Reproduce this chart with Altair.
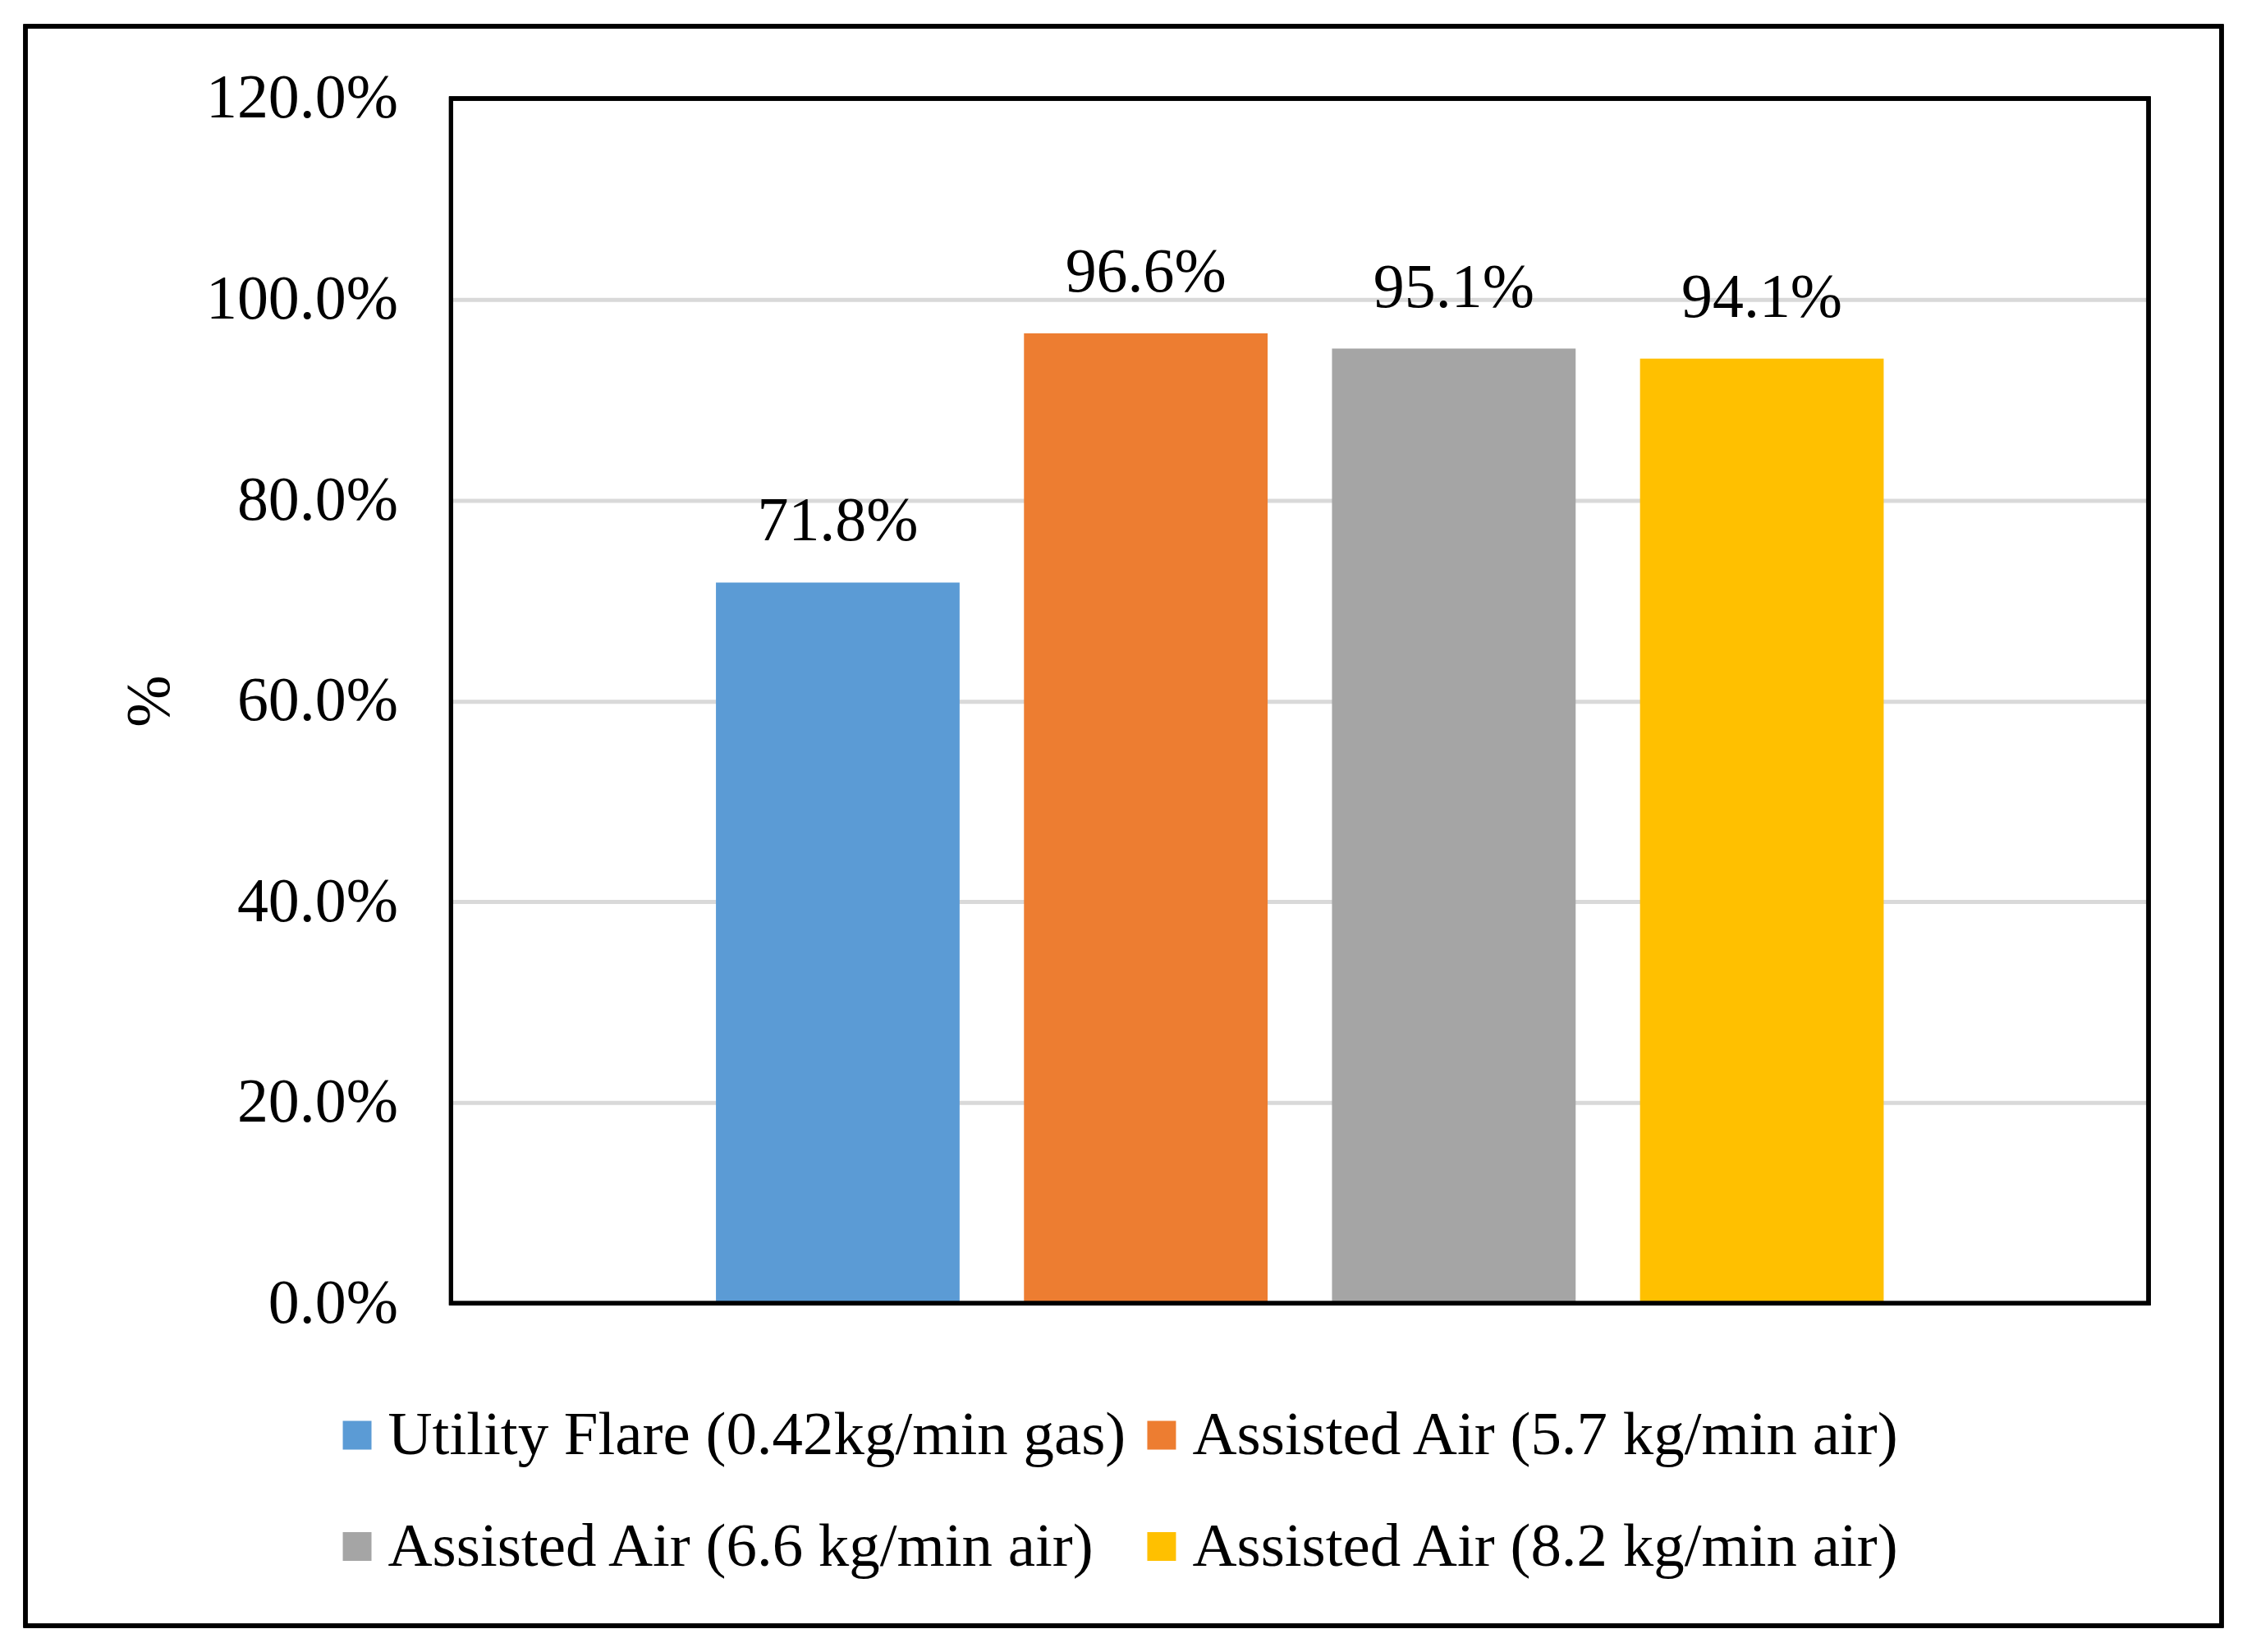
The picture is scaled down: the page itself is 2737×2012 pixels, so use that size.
import altair as alt
import pandas as pd

series = [
    "Utility Flare (0.42kg/min gas)",
    "Assisted Air (5.7 kg/min air)",
    "Assisted Air (6.6 kg/min air)",
    "Assisted Air (8.2 kg/min air)",
]
values = [0.718, 0.966, 0.951, 0.941]
colors = ["#5B9BD5", "#ED7D31", "#A5A5A5", "#FFC000"]
y_ticks = [0.0, 0.2, 0.4, 0.6, 0.8, 1.0, 1.2]

df = pd.DataFrame({"series": series, "value": values})

FONT = "Times New Roman, Liberation Serif, serif"
FS = 76
W, H = 2070, 1469

x_enc = alt.X("series:N", sort=series, axis=None,
              scale=alt.Scale(paddingInner=0.209, paddingOuter=0.86))
y_scale = alt.Scale(domain=[0, 1.2], nice=False)

bars = alt.Chart(df).mark_bar().encode(
    x=x_enc,
    y=alt.Y("value:Q", scale=y_scale,
            axis=alt.Axis(values=y_ticks, format=".1%", title="%",
                          domain=False, ticks=False, labelPadding=65,
                          labelFontSize=FS, labelFont=FONT, labelColor="black",
                          labelLimit=3000,
                          titleFontSize=FS, titleFont=FONT, titleFontWeight="normal",
                          titleColor="black", titleX=-367, titleY=H / 2,
                          titleAngle=-90, titleAlign="center", titleBaseline="middle",
                          grid=True, gridColor="#D9D9D9", gridWidth=5)),
    color=alt.Color("series:N", sort=series,
                    scale=alt.Scale(domain=series, range=colors),
                    legend=alt.Legend(title=None, orient="none", columns=2,
                                      direction="horizontal",
                                      legendX=-152, legendY=1592,
                                      labelFont=FONT, labelFontSize=75,
                                      labelColor="black", labelLimit=3000,
                                      symbolType="square", symbolSize=1225,
                                      symbolStrokeWidth=0, labelOffset=0,
                                      columnPadding=6, rowPadding=60,
                                      padding=0)),
)

labels = alt.Chart(df).mark_text(
    baseline="alphabetic", align="center", dy=-51,
    font=FONT, fontSize=FS, color="black",
).encode(
    x=x_enc,
    y=alt.Y("value:Q", scale=y_scale),
    text=alt.Text("value:Q", format=".1%"),
)

plot_border = alt.Chart(df).mark_rect(fill=None, stroke="black", strokeWidth=5, clip=False).encode(
    x=alt.value(0), x2=alt.value(W), y=alt.value(0), y2=alt.value(H)
)

frame = alt.Chart(df).mark_rect(fill=None, stroke="black", strokeWidth=5, clip=False).encode(
    x=alt.value(-519), x2=alt.value(2159), y=alt.value(-88), y2=alt.value(1862)
)

chart = alt.layer(bars, labels, plot_border, frame).properties(
    width=W, height=H, padding=20, background="white"
).configure_view(stroke=None)

chart.save("out.html", embed_options={"renderer": "svg", "actions": False})
